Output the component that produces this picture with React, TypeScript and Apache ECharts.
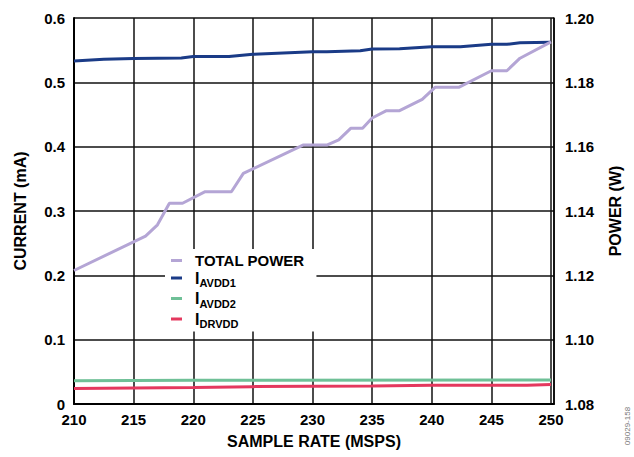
import React, { useEffect, useRef } from "react";
import * as echarts from "echarts";

// ---- Data ----
const xTickLabels = ["210", "215", "220", "225", "230", "235", "240", "245", "250"];
const leftTickLabels = ["0", "0.1", "0.2", "0.3", "0.4", "0.5", "0.6"];
const rightTickLabels = ["1.08", "1.10", "1.12", "1.14", "1.16", "1.18", "1.20"];

const seriesNames = ["TOTAL POWER", "IAVDD1", "IAVDD2", "IDRVDD"];

const powerRate = [210, 216, 217, 218, 219.1, 221, 223.2, 224.2, 229.2, 231.2, 232.2, 233.2, 234.2, 235, 236.2, 237.3, 239.2, 240.3, 242.3, 245, 246.3, 247.4, 250];
const totalPower = [1.1215, 1.1322, 1.1357, 1.1424, 1.1424, 1.146, 1.146, 1.1517, 1.1605, 1.1605, 1.1621, 1.1657, 1.1657, 1.1689, 1.1712, 1.1712, 1.1747, 1.1785, 1.1785, 1.1836, 1.1836, 1.1875, 1.1926];

const avdd1Rate = [210, 212.5, 215, 219, 220, 223, 225, 230, 231.2, 234, 235, 237.3, 240, 242.4, 245, 246.3, 247.4, 250];
const iAvdd1 = [0.533, 0.536, 0.537, 0.538, 0.54, 0.54, 0.5435, 0.5476, 0.5476, 0.549, 0.5518, 0.5523, 0.5554, 0.5554, 0.5591, 0.5591, 0.5616, 0.5622];

const avdd2Rate = [210, 220, 250];
const iAvdd2 = [0.036, 0.037, 0.0375];

const drvddRate = [210, 215, 220, 225, 230, 235, 240, 245, 248, 250];
const iDrvdd = [0.024, 0.025, 0.0255, 0.027, 0.0275, 0.028, 0.029, 0.029, 0.029, 0.0305];

const COLORS = ["#b4a5d5", "#1a3b87", "#6fc097", "#e4385e"];
const FONT = "'Liberation Sans', Arial, Helvetica, sans-serif";

const pairs = (xs: number[], ys: number[]) => xs.map((x, i) => [x, ys[i]]);

export default function App() {
  const ref = useRef<HTMLDivElement>(null);

  useEffect(() => {
    if (!ref.current) return;
    const chart = echarts.init(ref.current, undefined, { renderer: "svg" });

    const legendFmt: Record<string, string> = {
      "TOTAL POWER": "{t|TOTAL POWER}",
      IAVDD1: "{m|I}{s|AVDD1}",
      IAVDD2: "{m|I}{s|AVDD2}",
      IDRVDD: "{m|I}{s|DRVDD}",
    };

    const nameStyle = { fontSize: 16, fontWeight: "bold", color: "#000", fontFamily: FONT };
    const labelStyle = { fontSize: 15, fontWeight: "bold", color: "#000", fontFamily: FONT };
    const gridLine = { color: "#111111", width: 1.5, type: "solid", opacity: 1 };

    const mkSeries = (name: string, data: number[][], color: string, yIdx: number, z: number) => ({
      name,
      type: "line",
      yAxisIndex: yIdx,
      data,
      showSymbol: false,
      symbol: "none",
      lineStyle: { color, width: 3 },
      itemStyle: { color },
      z,
    });

    chart.setOption({
      animation: false,
      backgroundColor: "#ffffff",
      textStyle: { fontFamily: FONT },
      grid: { left: 74, right: 80, top: 18, bottom: 53, containLabel: false, show: false },
      xAxis: {
        type: "value",
        min: 210,
        max: 250.25,
        interval: 5,
        name: "SAMPLE RATE (MSPS)",
        nameLocation: "middle",
        nameGap: 29,
        nameTextStyle: nameStyle,
        axisLine: { show: true, lineStyle: { color: "#000", width: 2 } },
        axisTick: { show: false },
        axisLabel: {
          ...labelStyle,
          margin: 8,
          formatter: (v: number) => {
            const idx = xTickLabels.indexOf(String(Math.round(v * 100) / 100));
            return idx >= 0 ? xTickLabels[idx] : "";
          },
        },
        splitLine: { show: true, showMinLine: false, showMaxLine: true, lineStyle: gridLine },
      },
      yAxis: [
        {
          type: "value",
          position: "left",
          min: 0,
          max: 0.6,
          interval: 0.1,
          name: "CURRENT (mA)",
          nameLocation: "middle",
          nameGap: 46,
          nameTextStyle: nameStyle,
          axisLine: { show: true, lineStyle: { color: "#000", width: 2 } },
          axisTick: { show: false },
          axisLabel: {
            ...labelStyle,
            margin: 9,
            formatter: (v: number) => leftTickLabels[Math.round(v * 10)] ?? "",
          },
          splitLine: { show: true, showMinLine: false, showMaxLine: true, lineStyle: gridLine },
        },
        {
          type: "value",
          position: "right",
          min: 1.08,
          max: 1.2,
          interval: 0.02,
          name: "POWER (W)",
          nameLocation: "middle",
          nameGap: 53,
          nameTextStyle: nameStyle,
          axisLine: { show: true, lineStyle: { color: "#000", width: 1.5 } },
          axisTick: { show: false },
          axisLabel: {
            ...labelStyle,
            margin: 11,
            formatter: (v: number) => rightTickLabels[Math.round((v - 1.08) / 0.02)] ?? "",
          },
          splitLine: { show: false },
        },
      ],
      legend: {
        orient: "vertical",
        left: 165,
        top: 249,
        padding: [4, 12, 2, 6],
        itemGap: 2,
        backgroundColor: "#ffffff",
        icon: "rect",
        itemWidth: 11,
        itemHeight: 3,
        z: 10,
        data: seriesNames,
        formatter: (n: string) => legendFmt[n] ?? n,
        textStyle: {
          color: "#000",
          fontSize: 15,
          fontWeight: "bold",
          fontFamily: FONT,
          padding: [0, 0, 0, 8],
          rich: {
            t: { fontSize: 15, fontWeight: "bold", lineHeight: 17, color: "#000", fontFamily: FONT },
            m: { fontSize: 16, fontWeight: "bold", lineHeight: 17, color: "#000", fontFamily: FONT },
            s: {
              fontSize: 11,
              fontWeight: "bold",
              lineHeight: 11,
              verticalAlign: "bottom",
              padding: [0, 0, -2, 0],
              color: "#000",
              fontFamily: FONT,
            },
          },
        },
      },
      graphic: [
        {
          type: "text",
          x: 627,
          y: 426,
          rotation: Math.PI / 2,
          style: {
            text: "09029-158",
            fontSize: 8,
            fill: "#777",
            fontFamily: FONT,
            align: "center",
            verticalAlign: "middle",
          },
        },
      ],
      series: [
        mkSeries(seriesNames[1], pairs(avdd1Rate, iAvdd1), COLORS[1], 0, 3),
        mkSeries(seriesNames[2], pairs(avdd2Rate, iAvdd2), COLORS[2], 0, 3),
        mkSeries(seriesNames[3], pairs(drvddRate, iDrvdd), COLORS[3], 0, 3),
        mkSeries(seriesNames[0], pairs(powerRate, totalPower), COLORS[0], 1, 4),
      ],
    });

    return () => chart.dispose();
  }, []);

  return (
    <div
      ref={ref}
      style={{ position: "fixed", left: 0, top: 0, width: 634, height: 457, background: "#fff" }}
    />
  );
}
